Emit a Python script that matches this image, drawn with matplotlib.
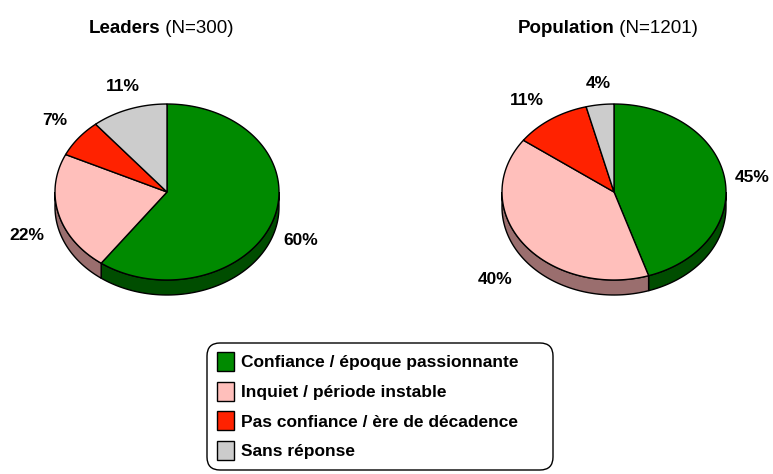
import numpy as np
import matplotlib
matplotlib.use("Agg")
import matplotlib.pyplot as plt
from matplotlib.patches import Polygon, Patch, FancyBboxPatch

plt.rcParams['font.family'] = ['Liberation Sans', 'DejaVu Sans']

# ---- data ----
categories = ['Confiance / époque passionnante', 'Inquiet / période instable',
              'Pas confiance / ère de décadence', 'Sans réponse']
leaders = [60, 22, 7, 11]
population = [45, 40, 11, 4]
titles = [('Leaders', ' (N=300)'), ('Population', ' (N=1201)')]

top_colors = ['#008a00', '#ffbfbb', '#ff2200', '#cccccc']
side_colors = ['#004d00', '#9a6e6e', '#8f1300', '#7a7a7a']

# ---- layout (pixels) ----
W, H = 773, 474
centers = [(167, 192), (614, 192)]
rx, ry, depth = 112, 88, 15
label_pos = [[(301, 240), (27, 235), (55, 120), (123, 86)],
             [(752, 178), (495, 280), (527, 100), (598, 83)]]

fig = plt.figure(figsize=(W / 100, H / 100), dpi=100)
ax = fig.add_axes([0, 0, 1, 1])
ax.set_xlim(0, W)
ax.set_ylim(H, 0)
ax.axis('off')


def pt(cx, cy, t):
    return cx + rx * np.cos(t), cy - ry * np.sin(t)


def draw_pie(cx, cy, values):
    total = float(sum(values))
    starts = []
    a = 90.0
    for v in values:
        starts.append((a, a - 360 * v / total))
        a -= 360 * v / total
    # side walls (front half only: 180..360 deg)
    for (a1, a2), sc in zip(starts, side_colors):
        lo, hi = a2 % 360, (a2 % 360) + (a1 - a2)
        for off in (0, 360, -360):
            s, e = max(lo + off, 180), min(hi + off, 360)
            if e > s:
                t = np.radians(np.linspace(s, e, 80))
                x, y = pt(cx, cy, t)
                xs = np.concatenate([x, x[::-1]])
                ys = np.concatenate([y, (y + depth)[::-1]])
                ax.add_patch(Polygon(np.column_stack([xs, ys]), closed=True,
                                     fc=sc, ec='black', lw=1, zorder=1))
    # top faces
    for (a1, a2), c in zip(starts, top_colors):
        t = np.radians(np.linspace(a1, a2, 150))
        x, y = pt(cx, cy, t)
        xs = np.concatenate([[cx], x])
        ys = np.concatenate([[cy], y])
        ax.add_patch(Polygon(np.column_stack([xs, ys]), closed=True,
                             fc=c, ec='black', lw=1, zorder=2))


for (cx, cy), vals, labs in zip(centers, [leaders, population], label_pos):
    draw_pie(cx, cy, vals)
    for v, (lx, ly) in zip(vals, labs):
        ax.text(lx, ly, '%d%%' % v, ha='center', va='center',
                fontsize=12.5, fontweight='bold', zorder=3)

# titles: bold name + normal N
fig.canvas.draw()
r = fig.canvas.get_renderer()
for (cx, cy), (tb, tn) in zip(centers, titles):
    t1 = ax.text(0, 28, tb, fontsize=13.5, fontweight='bold', va='center', ha='left')
    t2 = ax.text(0, 28, tn, fontsize=13.5, va='center', ha='left')
    w1 = t1.get_window_extent(r).width
    w2 = t2.get_window_extent(r).width
    x0 = cx - 6 - (w1 + w2) / 2
    t1.set_x(x0)
    t2.set_x(x0 + w1)

# legend box + entries
ax.add_patch(FancyBboxPatch((207, 343), 346, 127,
                            boxstyle='round,pad=0,rounding_size=13',
                            fc='white', ec='black', lw=1, zorder=4))
handles = [Patch(fc=c, ec='black', lw=1) for c in top_colors]
leg = ax.legend(handles, categories, loc='upper left',
                bbox_to_anchor=(217, 352), bbox_transform=ax.transData,
                prop={'weight': 'bold', 'size': 12.5},
                handlelength=1.0, handleheight=1.3, handletextpad=0.4,
                labelspacing=0.62, borderpad=0, borderaxespad=0, frameon=False)
leg.set_zorder(5)

fig.savefig('out.png', dpi=100)
